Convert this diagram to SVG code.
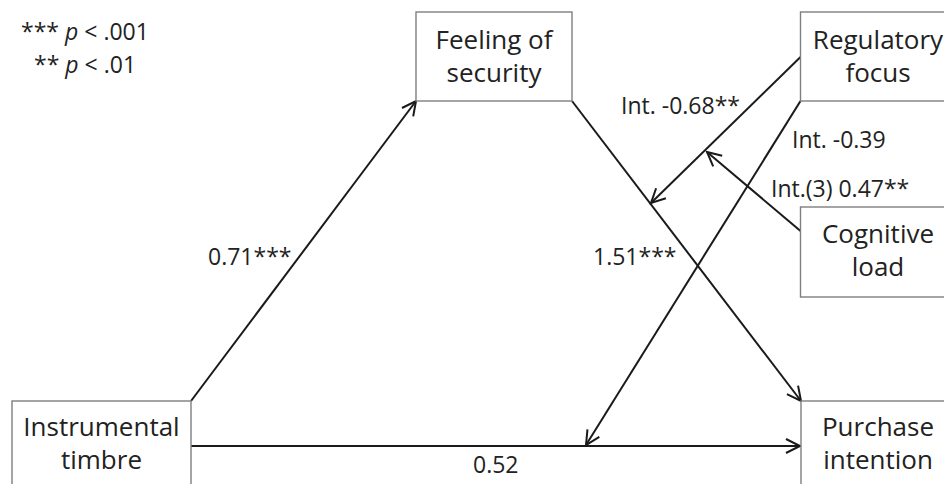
<svg xmlns="http://www.w3.org/2000/svg" width="944" height="484" viewBox="0 0 944 484">
<style>
.box{fill:#fff;stroke:#7f7f7f;stroke-width:1.4}
.node{font-family:"Open Sans","Liberation Sans",sans-serif;font-size:26px;fill:#222;text-anchor:middle}
.lbl{font-family:"Open Sans","Liberation Sans",sans-serif;font-size:23px;fill:#222}
.con{stroke:#1a1a1a;stroke-width:2;fill:none}
</style>
<defs>
<marker id="arr" markerUnits="userSpaceOnUse" markerWidth="20" markerHeight="20" refX="15" refY="8" orient="auto" viewBox="0 0 20 16">
<path d="M1,1 L15,8 L1,15" fill="none" stroke="#1a1a1a" stroke-width="2"/>
</marker>
</defs>
<rect width="944" height="484" fill="#fff"/>
<g id="legend">
<text class="lbl" x="21" y="40">*** <tspan font-style="italic">p</tspan> &lt; .001</text>
<text class="lbl" x="34" y="73">** <tspan font-style="italic">p</tspan> &lt; .01</text>
</g>
<g id="connectors">
<line class="con" x1="191" y1="401" x2="416" y2="101" marker-end="url(#arr)"/>
<line class="con" x1="572" y1="101" x2="801" y2="401" marker-end="url(#arr)"/>
<line class="con" x1="191" y1="446" x2="800" y2="446" marker-end="url(#arr)"/>
<line class="con" x1="800.5" y1="57" x2="651" y2="203" marker-end="url(#arr)"/>
<line class="con" x1="800.5" y1="101" x2="586" y2="445" marker-end="url(#arr)"/>
<line class="con" x1="800.5" y1="231" x2="707" y2="152" marker-end="url(#arr)"/>
<text class="lbl" x="208" y="265">0.71***</text>
<text class="lbl" x="593" y="265">1.51***</text>
<text class="lbl" x="621" y="114">Int. -0.68**</text>
<text class="lbl" x="792" y="148">Int. -0.39</text>
<text class="lbl" x="771" y="197">Int.(3) 0.47**</text>
<text class="lbl" x="473" y="473">0.52</text>
</g>
<g id="feeling">
<rect class="box" x="416" y="12" width="156" height="89"/>
<text class="node" x="494" y="49">Feeling of</text>
<text class="node" x="494" y="82">security</text>
</g>
<g id="regulatory">
<rect class="box" x="800.5" y="12" width="157" height="89"/>
<text class="node" x="878" y="49">Regulatory</text>
<text class="node" x="878" y="82">focus</text>
</g>
<g id="cognitive">
<rect class="box" x="800.5" y="207" width="157" height="90"/>
<text class="node" x="878" y="243">Cognitive</text>
<text class="node" x="878" y="276">load</text>
</g>
<g id="instrumental">
<rect class="box" x="12" y="401" width="179" height="100"/>
<text class="node" x="101.5" y="436">Instrumental</text>
<text class="node" x="101.5" y="469">timbre</text>
</g>
<g id="purchase">
<rect class="box" x="801" y="401" width="157" height="100"/>
<text class="node" x="878" y="436">Purchase</text>
<text class="node" x="878" y="469">intention</text>
</g>
</svg>
